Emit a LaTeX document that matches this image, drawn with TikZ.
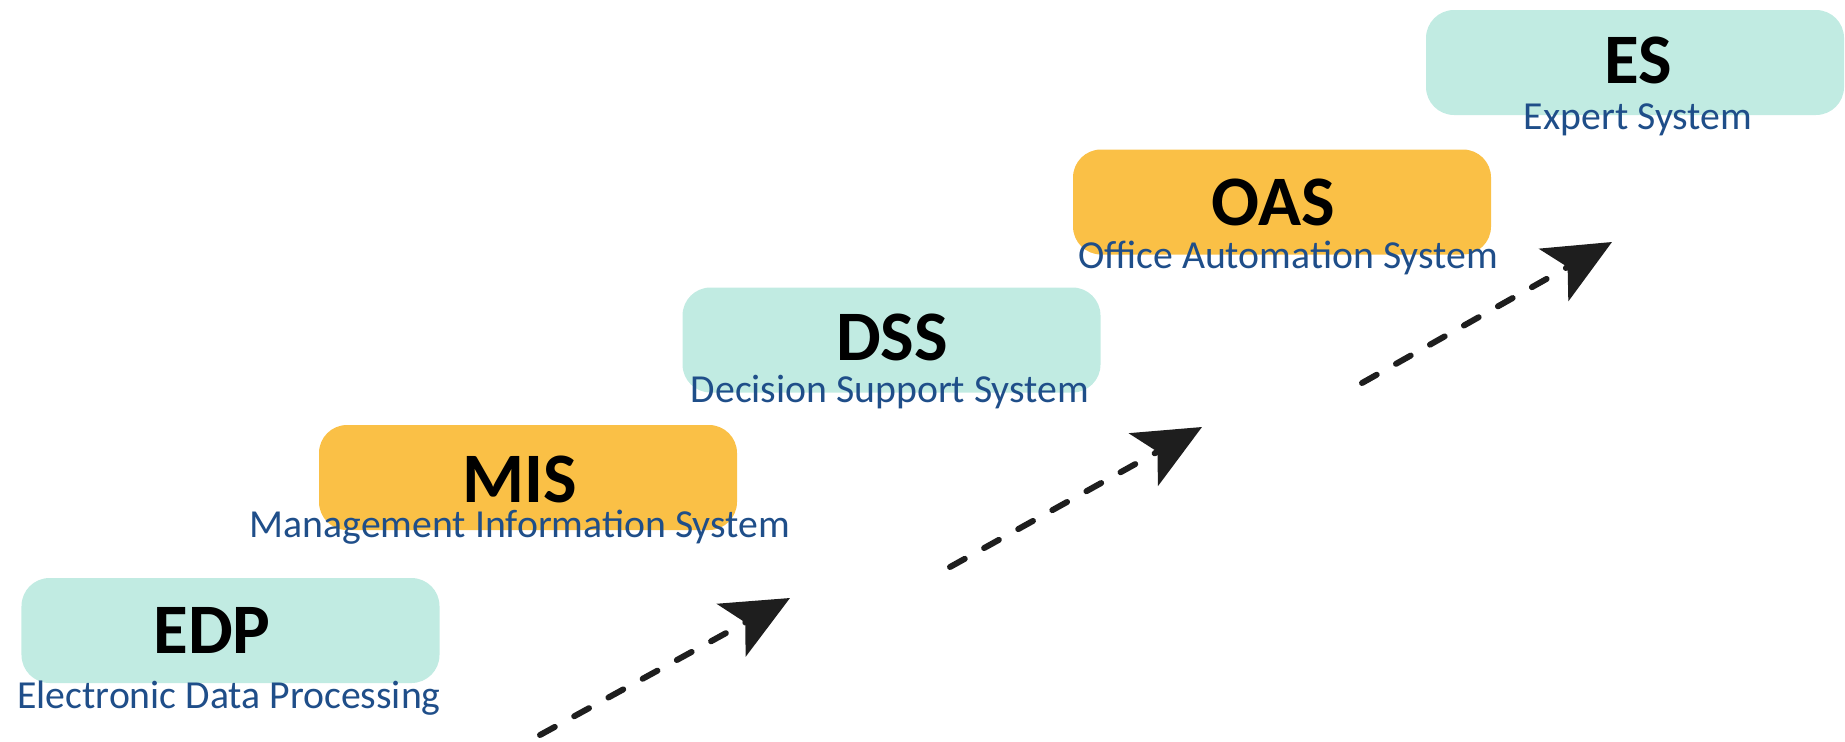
\documentclass[tikz,border=0pt]{standalone}
\usepackage{fontspec}
\setmainfont{Carlito}
\usetikzlibrary{arrows.meta}
\usetikzlibrary{positioning}
\definecolor{tealfill}{HTML}{C1EBE2}
\definecolor{orangefill}{HTML}{FAC046}
\definecolor{subblue}{HTML}{1F4E89}
\definecolor{arrowgray}{HTML}{1E1E1E}
\tikzstyle{stagebox}=[rectangle,rounded corners=0.28cm,minimum width=4.18cm,minimum height=1.05cm,inner sep=0pt]
\tikzstyle{stagelabel}=[anchor=base,inner sep=0pt,text depth=0pt,font=\fontsize{20.2}{22}\selectfont\bfseries]
\tikzstyle{sublabel}=[anchor=base,inner sep=0pt,text=subblue,font=\fontsize{11.3}{13}\selectfont]
\tikzstyle{stepedge} = [draw=arrowgray,line width=1.7pt,line cap=round,dash pattern=on 4.8pt off 6.3pt,-{Stealth[length=19pt,width=17pt,inset=4.5pt]}]

\begin{document}
\begin{tikzpicture}
\useasboundingbox (0,0) rectangle (18.45,7.41);

    % First we draw the boxes
    \foreach \pos/\name/\col in {{(2.305,1.105)/EDPbox/tealfill}, {(5.28,2.635)/MISbox/orangefill}, {(8.915,4.01)/DSSbox/tealfill}, {(12.82,5.39)/OASbox/orangefill}, {(16.35,6.785)/ESbox/tealfill}}
        \node[stagebox, fill=\col] (\name) at \pos {};

    % Then the short names
    \foreach \pos/\name/\label in {{(2.12,0.88)/EDP/EDP}, {(5.20,2.39)/MIS/MIS}, {(8.92,3.81)/DSS/DSS}, {(12.73,5.16)/OAS/OAS}, {(16.38,6.58)/ES/ES}}
        \node[stagelabel] (\name) at \pos {\label};

    % and the long names under them
    \foreach \pos/\name/\label in {{(2.29,0.33)/EDPsub/Electronic Data Processing}, {(5.20,2.04)/MISsub/Management Information System}, {(8.90,3.39)/DSSsub/Decision Support System}, {(12.88,4.73)/OASsub/Office Automation System}, {(16.38,6.12)/ESsub/Expert System}}
        \node[sublabel] (\name) at \pos {\label};

    % Arrows
    \coordinate (a1) at (5.40,0.06);  \coordinate (b1) at (7.90,1.43);
    \coordinate (a2) at (9.50,1.74);  \coordinate (b2) at (12.02,3.14);
    \coordinate (a3) at (13.62,3.58); \coordinate (b3) at (16.12,4.99);
  \foreach \source/ \dest in {a1/b1, a2/b2, a3/b3}
          \path[stepedge] (\source) -- (\dest);

\end{tikzpicture}
\end{document}
